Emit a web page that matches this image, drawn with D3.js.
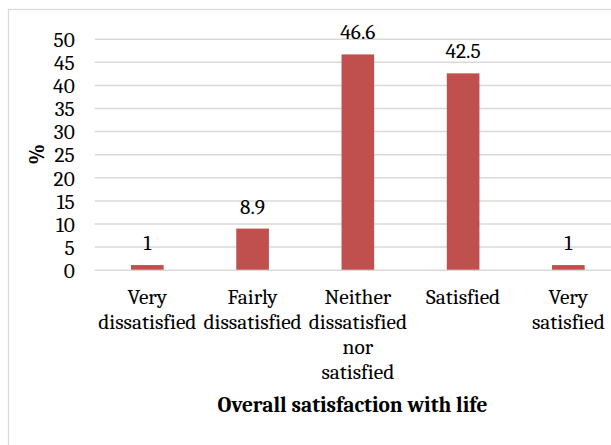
<!DOCTYPE html>
<html>
<head>
<meta charset="utf-8">
<script src="https://cdn.jsdelivr.net/npm/d3@7"></script>
<style>
  html, body { margin: 0; padding: 0; background: #fff; }
  svg { display: block; }
</style>
</head>
<body>
<svg id="chart" width="611" height="445" style="font-family: Caladea, Cambria, 'Liberation Serif', serif;"></svg>
<script>
// ---- data ----
const categories = ["Very dissatisfied", "Fairly dissatisfied", "Neither dissatisfied nor satisfied", "Satisfied", "Very satisfied"];
const categoryLines = [
  ["Very", "dissatisfied"],
  ["Fairly", "dissatisfied"],
  ["Neither", "dissatisfied", "nor", "satisfied"],
  ["Satisfied"],
  ["Very", "satisfied"]
];
const values = [1, 8.9, 46.6, 42.5, 1];
const yTicks = [0, 5, 10, 15, 20, 25, 30, 35, 40, 45, 50];
const yLabel = "%";
const xTitle = "Overall satisfaction with life";

// ---- layout ----
const W = 611, H = 445;
const plot = { left: 94.7, right: 621, top: 38.7, bottom: 269.7 };
const FONT = "Caladea, Cambria, 'Liberation Serif', serif";
const fontSize = 21.4;
const barColor = "#c0504d";
const gridColor = "#d9d9d9";

const svg = d3.select("#chart");

function styleText(sel, bold) {
  return sel.style("font-family", FONT)
    .style("font-size", fontSize + "px")
    .style("font-weight", bold ? "bold" : "normal")
    .style("fill", "#000");
}

// chart border (extends past the cropped edges)
svg.append("rect")
  .attr("x", 8.5).attr("y", 9.5)
  .attr("width", W + 20).attr("height", H + 20)
  .attr("fill", "#fff")
  .attr("stroke", gridColor).attr("stroke-width", 1.2);

const x = d3.scaleBand()
  .domain(categories)
  .range([plot.left, plot.right])
  .paddingInner(0.69)
  .paddingOuter(0.345);

const y = d3.scaleLinear()
  .domain([0, 50])
  .range([plot.bottom, plot.top]);

// gridlines
const grid = svg.append("g")
  .attr("transform", `translate(${plot.left},0)`)
  .call(d3.axisLeft(y).tickValues(yTicks).tickSize(-(plot.right - plot.left)).tickFormat(""));
grid.select(".domain").remove();
grid.selectAll(".tick line").attr("stroke", gridColor).attr("stroke-width", 1.5);

// y tick labels
const yAxis = svg.append("g")
  .attr("transform", `translate(${plot.left - 20},0)`)
  .call(d3.axisLeft(y).tickValues(yTicks).tickSize(0).tickPadding(0));
yAxis.select(".domain").remove();
styleText(yAxis.selectAll(".tick text"), false).attr("dy", "0.36em");

// bars
svg.append("g").selectAll("rect")
  .data(values)
  .join("rect")
  .attr("x", (d, i) => x(categories[i]))
  .attr("width", x.bandwidth())
  .attr("y", d => y(d))
  .attr("height", d => y(0) - y(d))
  .attr("fill", barColor);

// data labels
styleText(svg.append("g").selectAll("text")
  .data(values)
  .join("text")
  .attr("x", (d, i) => x(categories[i]) + x.bandwidth() / 2)
  .attr("y", d => y(d) - 15)
  .attr("text-anchor", "middle")
  .text(d => d), false);

// x category labels via axis
const xAxis = svg.append("g")
  .attr("transform", `translate(0,${plot.bottom})`)
  .call(d3.axisBottom(x).tickSize(0).tickFormat(""));
xAxis.select(".domain").remove();
xAxis.selectAll(".tick").each(function(d, i) {
  const t = styleText(d3.select(this).append("text"), false)
    .attr("text-anchor", "middle");
  categoryLines[i].forEach((line, j) => {
    t.append("tspan").attr("x", 0).attr("y", 34.3 + j * 25).text(line);
  });
});

// y axis title
styleText(svg.append("text")
  .attr("transform", `translate(44,${(plot.top + plot.bottom) / 2}) rotate(-90)`)
  .attr("text-anchor", "middle")
  .text(yLabel), true);

// x axis title
styleText(svg.append("text")
  .attr("x", 352.5)
  .attr("y", 411.7)
  .attr("text-anchor", "middle")
  .text(xTitle), true);
</script>
</body>
</html>
